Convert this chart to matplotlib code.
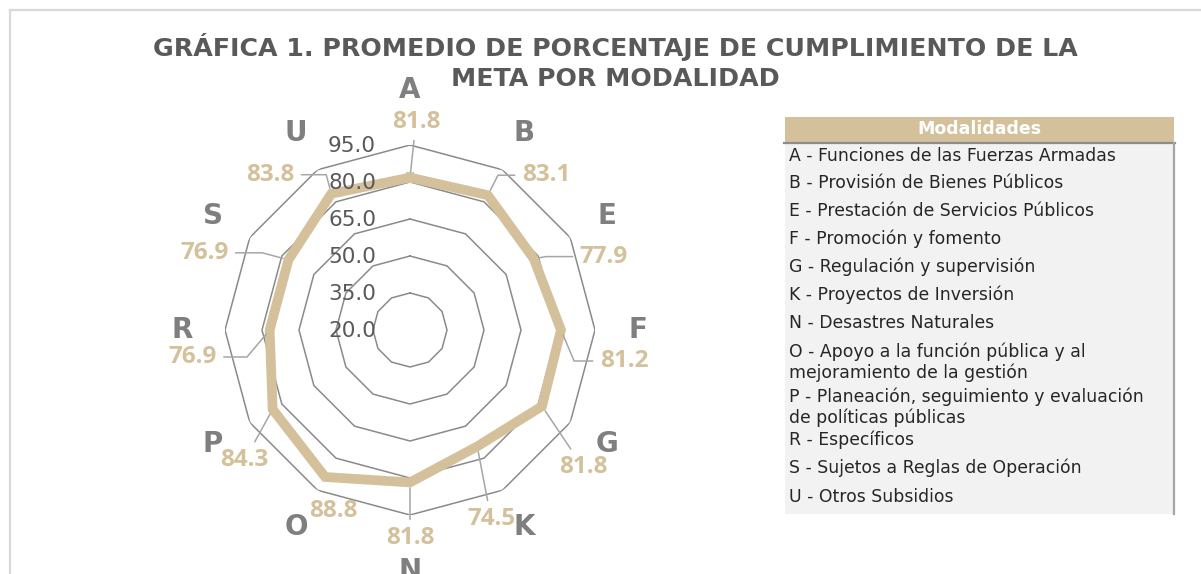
"""
Gráfica 1: promedio de porcentaje de cumplimiento de la meta por modalidad.
Radar de 12 modalidades con escala 20-95 y tabla de claves a la derecha.
"""
import numpy as np
import matplotlib.pyplot as plt
from matplotlib.lines import Line2D
from matplotlib.patches import Rectangle
from matplotlib.transforms import offset_copy

# ================= datos =================
CATEGORIAS = ["A", "B", "E", "F", "G", "K", "N", "O", "P", "R", "S", "U"]
VALORES = [81.8, 83.1, 77.9, 81.2, 81.8, 74.5, 81.8, 88.8, 84.3, 76.9, 76.9, 83.8]
ESCALA = [20, 35, 50, 65, 80, 95]
TITULO = "GRÁFICA 1. PROMEDIO DE PORCENTAJE DE CUMPLIMIENTO DE LA\nMETA POR MODALIDAD"
ENCABEZADO = "Modalidades"
MODALIDADES = [
    "A - Funciones de las Fuerzas Armadas",
    "B - Provisión de Bienes Públicos",
    "E - Prestación de Servicios Públicos",
    "F - Promoción y fomento",
    "G - Regulación y supervisión",
    "K - Proyectos de Inversión",
    "N - Desastres Naturales",
    "O - Apoyo a la función pública y al\nmejoramiento de la gestión",
    "P - Planeación, seguimiento y evaluación\nde políticas públicas",
    "R - Específicos",
    "S - Sujetos a Reglas de Operación",
    "U - Otros Subsidios",
]

# ================= layout (pixeles) =================
W, H = 1201, 574
CX, CY, RAD = 410, 330, 185
DORADO = "#d4c19c"
GRIS_CAT = "#7f7f7f"
GRIS_TXT = "#595959"
GRIS_REJ = "#8a8a8a"
GRIS_GUIA = "#a6a6a6"
FUENTE = "DejaVu Sans"
NUM = "Open Sans"

# desplazamiento de cada etiqueta de valor respecto a su punto (px, y hacia arriba)
ETQ_OFF = [(6, 56), (58, 20), (70, 2), (63, -31), (41, -61), (14, -73),
           (0, -56), (8, -34), (-28, -51), (-77, -27), (-84, 7), (-61, 19)]
# ángulo del tramo diagonal de la línea guía (None = recta, "x" = sin guía)
ETQ_ANG = [None, 63, 9, -67, None, None, None, "x", None, 50, -15, -75]
# radio (en unidades de datos) de las letras de categoría
CAT_R = [117.3, 112.4, 112.4, 112.4, 112.4, 112.4, 117.8, 112.4, 112.4, 112.4, 112.4, 112.4]
# centros verticales de los renglones de la tabla
TABLA_Y = [156, 183, 211, 239, 267, 295, 323, 362, 407, 440, 468, 497]


def fx(x):
    return x / W


def fy(y):
    return 1 - y / H


fig = plt.figure(figsize=(W / 100, H / 100), dpi=100)

# marco gris claro
fig.add_artist(Line2D([fx(10), 1], [fy(10), fy(10)], color="#d9d9d9", lw=1.6))
fig.add_artist(Line2D([fx(10), fx(10)], [fy(10), 0], color="#d9d9d9", lw=1.6))

fig.text(fx(615), fy(62), TITULO, ha="center", va="center", fontsize=18.2,
         fontweight="bold", color=GRIS_TXT, family=FUENTE, linespacing=1.3)

ax = fig.add_axes([fx(CX - RAD), fy(CY + RAD), 2 * RAD / W, 2 * RAD / H], projection="polar")
ax.set_theta_zero_location("N")
ax.set_theta_direction(-1)
ax.set_ylim(ESCALA[0], ESCALA[-1])
ax.axis("off")

n = len(CATEGORIAS)
theta = np.arange(n) * 2 * np.pi / n
theta_c = np.append(theta, theta[0])

for v in ESCALA[1:]:
    ax.plot(theta_c, [v] * (n + 1), color=GRIS_REJ, lw=1.1, zorder=1)

vals = np.array(VALORES)
ax.plot(theta_c, np.append(vals, vals[0]), color=DORADO, lw=7, zorder=2,
        solid_joinstyle="miter")

# escala radial a la izquierda del eje vertical
tr = offset_copy(ax.transData, fig=fig, x=-34, y=-1, units="dots")
for v in ESCALA:
    ax.text(0, v, f"{v:.1f}", transform=tr, ha="right", va="center", fontsize=15.5,
            color=GRIS_TXT, family=FUENTE, zorder=3)

# letras de categoría
for t, c, r in zip(theta, CATEGORIAS, CAT_R):
    ax.text(t, r, c, ha="center", va="center", fontsize=20, fontweight="bold",
            color=GRIS_CAT, family=FUENTE, clip_on=False)

# etiquetas de valor con línea guía
for t, v, off, ang in zip(theta, VALORES, ETQ_OFF, ETQ_ANG):
    if ang == "x":
        props = None
    elif ang is None:
        props = dict(arrowstyle="-", color=GRIS_GUIA, lw=1.1, shrinkA=3, shrinkB=4)
    else:
        props = dict(arrowstyle="-", color=GRIS_GUIA, lw=1.1, shrinkA=3, shrinkB=4,
                     connectionstyle=f"angle,angleA=0,angleB={ang},rad=0")
    ax.annotate(f"{v:.1f}", xy=(t, v), xytext=off, textcoords="offset pixels",
                ha="center", va="center", fontsize=17.5, fontweight="bold",
                color=DORADO, family=NUM, arrowprops=props, zorder=4,
                annotation_clip=False)

# tabla de modalidades
fig.add_artist(Rectangle((fx(785), fy(142)), fx(1174) - fx(785), 25 / H,
                         color=DORADO, lw=0))
fig.add_artist(Rectangle((fx(785), fy(514)), fx(1174) - fx(785), 371 / H,
                         color="#f2f2f2", lw=0))
fig.add_artist(Line2D([fx(784), fx(1175)], [fy(143), fy(143)], color="#8c8c8c", lw=1.6))
fig.add_artist(Line2D([fx(1174), fx(1174)], [fy(143), fy(514)], color="#a6a6a6", lw=1.6))
fig.text(fx(979), fy(129), ENCABEZADO, ha="center", va="center", fontsize=12.5,
         fontweight="bold", color="white", family=FUENTE)
for txt, y in zip(MODALIDADES, TABLA_Y):
    fig.text(fx(789), fy(y), txt, ha="left", va="center", fontsize=12.4,
             color="#262626", family=FUENTE, linespacing=1.15)

fig.savefig("out.png", dpi=100)
